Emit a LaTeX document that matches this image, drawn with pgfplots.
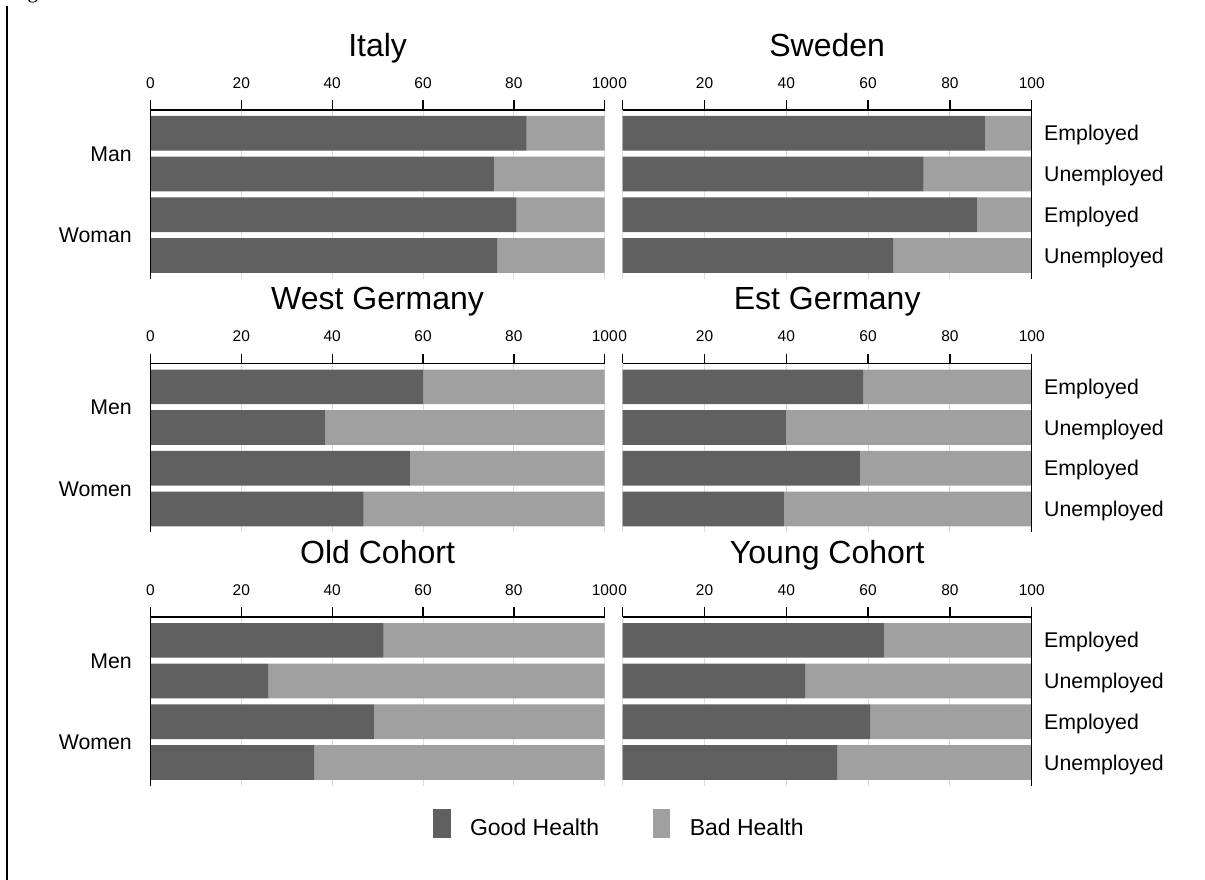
\documentclass[border=0pt]{standalone}
\usepackage{fontspec}
\setmainfont{Liberation Sans}
\newfontfamily\seriffont{Liberation Serif}
\usepackage{pgfplots}
\pgfplotsset{compat=1.18}

\definecolor{gdark}{RGB}{96,96,96}
\definecolor{glight}{RGB}{160,160,160}
\definecolor{gridc}{RGB}{222,222,222}

\newcommand\titsz{\fontsize{32bp}{38bp}\selectfont}
\newcommand\labsz{\fontsize{21.3bp}{25bp}\selectfont}
\newcommand\ticksz{\fontsize{15.5bp}{18bp}\selectfont}
\newcommand\legsz{\fontsize{23bp}{27bp}\selectfont}

% grid under the bars, axis lines and ticks over them
\pgfplotsset{
  layers/gridbelow/.define layer set={
    axis background, axis grid, main, axis ticks, axis lines,
    axis tick labels, axis descriptions, axis foreground
  }{
    grid style={/pgfplots/on layer=axis grid},
    tick style={/pgfplots/on layer=axis ticks},
    axis line style={/pgfplots/on layer=axis lines},
    label style={/pgfplots/on layer=axis descriptions},
    legend style={/pgfplots/on layer=axis descriptions},
    title style={/pgfplots/on layer=axis descriptions},
    ticklabel style={/pgfplots/on layer=axis tick labels},
    axis background@ style={/pgfplots/on layer=axis background},
    3d box foreground style={/pgfplots/on layer=axis foreground},
  },
}

\pgfplotsset{
  panel/.style={
    set layers=gridbelow,
    scale only axis, height=168.8bp,
    xbar stacked, bar width=34.7bp,
    xmin=0, xmax=100, ymin=0.426, ymax=4.574, y dir=reverse,
    axis x line*=top,
    xtick={0,20,40,60,80,100},
    tick align=outside, major tick length=9.5bp,
    xmajorgrids,
    grid style={draw=gridc, line width=1bp},
    axis line style={-, line width=1.3bp, black},
    x tick style={line width=1.3bp, black},
    y tick style={draw=none},
    xticklabel style={font=\ticksz, anchor=base, inner sep=0pt, yshift=12.2bp},
    yticklabel style={font=\labsz, inner sep=0pt},
    /pgf/number format/assume math mode=true,
    clip=false,
  },
  leftp/.style={panel, width=454.2bp, axis y line*=left, ytick={1.5,3.5},
    yticklabel style={anchor=base east, yshift=-7.6bp, xshift=-9bp}},
  rightp/.style={panel, width=409bp, axis y line*=right, ytick={1,2,3,4},
    yticklabels={Employed,Unemployed,Employed,Unemployed},
    yticklabel style={anchor=base west, yshift=-7.6bp, xshift=2.8bp}},
  good/.style={fill=gdark, draw=none},
  bad/.style={fill=glight, draw=none},
}

\begin{document}
\begin{tikzpicture}
% row 1
\begin{axis}[leftp, name=italy, at={(150.5bp,770bp)}, anchor=north west,
  yticklabels={Man,Woman}]
\addplot[good] coordinates {(82.8,1) (75.6,2) (80.6,3) (76.3,4)};
\addplot[bad]  coordinates {(17.2,1) (24.4,2) (19.4,3) (23.7,4)};
\end{axis}
\begin{axis}[rightp, name=sweden, at={(622.7bp,770bp)}, anchor=north west]
\addplot[good] coordinates {(88.7,1) (73.6,2) (86.6,3) (66.1,4)};
\addplot[bad]  coordinates {(11.3,1) (26.4,2) (13.4,3) (33.9,4)};
\end{axis}

% row 2
\begin{axis}[leftp, name=west, at={(150.5bp,516.5bp)}, anchor=north west,
  yticklabels={Men,Women}]
\addplot[good] coordinates {(60.0,1) (38.5,2) (57.1,3) (46.9,4)};
\addplot[bad]  coordinates {(40.0,1) (61.5,2) (42.9,3) (53.1,4)};
\end{axis}
\begin{axis}[rightp, name=est, at={(622.7bp,516.5bp)}, anchor=north west]
\addplot[good] coordinates {(58.8,1) (39.9,2) (58.0,3) (39.5,4)};
\addplot[bad]  coordinates {(41.2,1) (60.1,2) (42.0,3) (60.5,4)};
\end{axis}

% row 3
\begin{axis}[leftp, name=old, at={(150.5bp,263bp)}, anchor=north west,
  yticklabels={Men,Women},
  legend columns=2,
  legend style={at={(1.0301,-0.2236)}, anchor=center, draw=none, fill=none,
    font=\legsz, nodes={inner sep=0pt},
    /tikz/every even column/.append style={column sep=53.7bp}},
  legend image code/.code={\fill[#1] (0bp,-10.3bp) rectangle (17.6bp,19.2bp); \path (36.9bp,0bp);}]
\addplot[good] coordinates {(51.3,1) (25.9,2) (49.2,3) (36.0,4)};
\addplot[bad]  coordinates {(48.7,1) (74.1,2) (50.8,3) (64.0,4)};
\legend{Good Health, Bad Health}
\end{axis}
\begin{axis}[rightp, name=young, at={(622.7bp,263bp)}, anchor=north west]
\addplot[good] coordinates {(64.0,1) (44.6,2) (60.5,3) (52.4,4)};
\addplot[bad]  coordinates {(36.0,1) (55.4,2) (39.5,3) (47.6,4)};
\end{axis}

% panel titles
\foreach \n/\t in {italy/Italy, sweden/Sweden, west/West Germany, est/Est Germany, old/Old Cohort, young/Young Cohort}
  \node[font=\titsz, anchor=base, inner sep=0pt] at ([yshift=53.5bp]\n.north) {\t};

% page edge of the source document
\draw[line width=2bp] (6.7bp,874bp) -- (6.7bp,0bp);
\node[font=\seriffont\fontsize{21bp}{25bp}\selectfont, anchor=base west, inner sep=0pt] at (10bp,881bp) {Figure 1};

\pgfresetboundingbox
\path (0,0) rectangle (1205bp,880bp);
\end{tikzpicture}
\end{document}
